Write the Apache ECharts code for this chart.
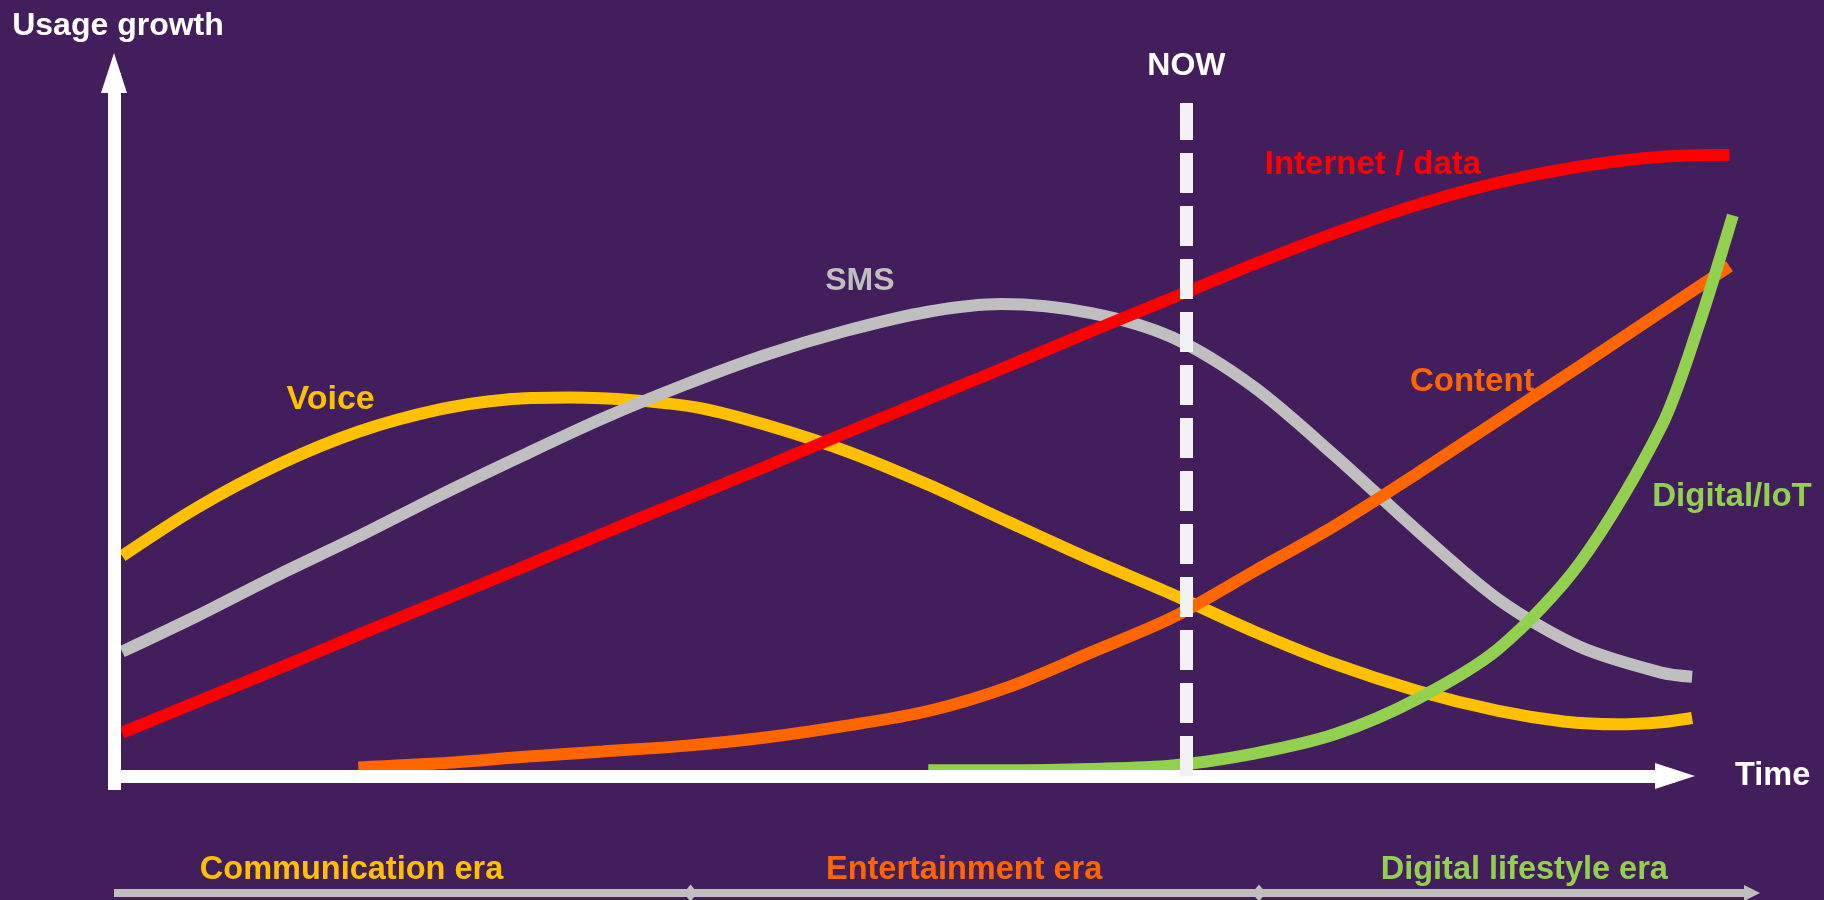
<!DOCTYPE html>
<html>
<head>
<meta charset="utf-8">
<title>Usage growth</title>
<script src="https://cdn.jsdelivr.net/npm/echarts@6/dist/echarts.min.js"></script>
<style>
  html, body { margin: 0; padding: 0; background: #421e5c; }
  #chart { width: 1824px; height: 900px; }
</style>
</head>
<body>
<div id="chart"></div>
<script>
// 数据:x = 时间 (0..100),y = 使用增长 (0..100)
const voiceData = [[0.5, 31.5], [5, 38.3], [10, 44.5], [15, 49.3], [20, 52.5], [24, 53.9], [28, 54.2],
  [32, 53.8], [36, 52.7], [40, 50.3], [45, 46.5], [50, 41.7], [55, 36.3], [60, 31.0], [65, 26.0],
  [70, 20.7], [75, 16.0], [80, 12.2], [85, 9.3], [89, 7.8], [92.3, 7.4], [95, 7.7], [96.9, 8.3]];
const smsData = [[0.5, 17.8], [5, 22.8], [10, 28.7], [15, 34.3], [20, 40.2], [25, 45.8], [30, 51.2],
  [35, 56.0], [40, 60.3], [45, 63.8], [50, 66.5], [54.5, 67.6], [60, 66.3], [65, 62.8], [70, 55.7],
  [75, 45.8], [80, 35.2], [85, 25.3], [90, 18.5], [95, 14.8], [96.9, 14.2]];
const internetData = [[0.5, 6.2], [5, 10.5], [10, 15.3], [15, 20.2], [20, 25.0], [25, 29.8], [30, 34.7],
  [35, 39.5], [40, 44.3], [45, 49.2], [50, 54.0], [55, 58.8], [60, 63.7], [65, 68.5], [70, 73.3],
  [75, 77.8], [80, 81.8], [85, 85.0], [90, 87.3], [95, 88.7], [99.2, 89.0]];
const contentData = [[15, 1.2], [20, 1.8], [25, 2.7], [30, 3.5], [35, 4.3], [40, 5.5], [45, 7.2],
  [50, 9.3], [55, 12.8], [60, 17.7], [65, 22.7], [70, 29.3], [75, 35.9], [80, 43.3], [85, 51.0],
  [90, 58.7], [95, 66.5], [99.2, 73.0]];
const digitalData = [[50, 0.8], [55, 0.8], [60, 1.0], [65, 1.5], [70, 3.2], [75, 6.0], [80, 11.0],
  [85, 18.2], [90, 30.5], [95, 50.0], [97.3, 64.5], [99.4, 80.3]];

const nowX = 65.85;
const eraNames = ["Communication era", "Entertainment era", "Digital lifestyle era"];
const eraColors = ["#ffc000", "#ff6600", "#92d050"];
const eraBreaks = [35.2, 69.9];

const FONT = "'Liberation Sans', Arial, sans-serif";
const txt = (color, size) => ({ color, fontSize: size, fontWeight: "bold", fontFamily: FONT });

// 曲线旁的文字,挂在数据坐标上
function tag(name, coord, color, size = 33) {
  return {
    symbol: "circle",
    symbolSize: 1,
    silent: true,
    itemStyle: { color: "transparent" },
    label: { show: true, position: "inside", formatter: name, ...txt(color, size) },
    data: [{ coord }],
  };
}

function curve(name, data, color, label) {
  return {
    name,
    type: "line",
    xAxisIndex: 1,
    yAxisIndex: 1,
    data,
    smooth: 0.3,
    showSymbol: false,
    silent: true,
    lineStyle: { color, width: 12, cap: "butt" },
    markPoint: label,
  };
}

const hiddenAxis = (gridIndex, min, max) => ({ gridIndex, type: "value", min, max, show: false });
const arrowAxis = (extra) => ({
  gridIndex: 0,
  type: "value",
  z: 4,
  axisLine: {
    show: true,
    onZero: true,
    symbol: ["none", "triangle"],
    symbolSize: [26, 40],
    lineStyle: { color: "#ffffff", width: 13, cap: "butt" },
  },
  axisTick: { show: false },
  axisLabel: { show: false },
  splitLine: { show: false },
  ...extra,
});

const chart = echarts.init(document.getElementById("chart"), null, { renderer: "canvas" });

chart.setOption({
  animation: false,
  backgroundColor: "#421e5c",
  grid: [
    { left: 114, right: 149, top: 73, bottom: 110 },     // 坐标轴箭头
    { left: 114, right: 81.4, top: 77.9, bottom: 124.1 }, // 曲线
    { left: 114, right: 72, bottom: 7, height: 1 },       // 时代条
  ],
  xAxis: [
    arrowAxis({
      min: 0, max: 100,
      name: "Time", nameLocation: "end", nameGap: 60,
      nameTextStyle: { ...txt("#ffffff", 32.5), padding: [4, 0, 0, 0] },
    }),
    hiddenAxis(1, 0, 100),
    {
      gridIndex: 2,
      type: "value",
      min: 0,
      max: 100,
      axisLine: {
        show: true,
        symbol: ["none", "triangle"],
        symbolSize: [16, 16],
        lineStyle: { color: "#bfbfbf", width: 8, cap: "butt" },
      },
      axisTick: { show: false },
      axisLabel: { show: false },
      splitLine: { show: false },
    },
  ],
  yAxis: [
    arrowAxis({
      min: -2, max: 100,
      name: "Usage growth", nameLocation: "end", nameGap: 31,
      nameTextStyle: { ...txt("#ffffff", 32), padding: [0, 0, 0, 8] },
    }),
    hiddenAxis(1, 0, 100),
    hiddenAxis(2, 0, 1),
  ],
  series: [
    curve("Voice", voiceData, "#ffc000", tag("Voice", [13.3, 53.9], "#ffc000", 34)),
    curve("SMS", smsData, "#bfbfbf", tag("SMS", [45.8, 70.9], "#bfbfbf", 32)),
    curve("Internet / data", internetData, "#ff0000", tag("Internet / data", [77.3, 87.5], "#ff0000")),
    curve("Content", contentData, "#ff6600", tag("Content", [83.4, 56.4], "#ff6600")),
    curve("Digital/IoT", digitalData, "#92d050", tag("Digital/IoT", [99.35, 40.0], "#92d050")),
    {
      name: "NOW",
      type: "line",
      xAxisIndex: 1,
      yAxisIndex: 1,
      data: [],
      markLine: {
        silent: true,
        symbol: ["none", "none"],
        lineStyle: { color: "#f2f2f2", width: 13, type: [40, 13], cap: "butt" },
        label: { show: true, position: "end", formatter: "NOW", distance: 21, ...txt("#ffffff", 32) },
        data: [[{ coord: [nowX, 0] }, { coord: [nowX, 96.4] }]],
      },
    },
    {
      name: "eraBreaks",
      type: "scatter",
      xAxisIndex: 2,
      yAxisIndex: 2,
      silent: true,
      symbol: "diamond",
      symbolSize: [14, 17],
      itemStyle: { color: "#bfbfbf", opacity: 1 },
      data: eraBreaks.map((x) => [x, 0]),
    },
    {
      name: "eras",
      type: "scatter",
      xAxisIndex: 2,
      yAxisIndex: 2,
      silent: true,
      symbolSize: 1,
      itemStyle: { color: "transparent", opacity: 1 },
      label: { show: true, position: "top", distance: 6, formatter: "{b}" },
      data: eraNames.map((name, i) => ({
        name,
        value: [[14.5, 51.9, 86.1][i], 0],
        label: txt(eraColors[i], 32.5),
      })),
    },
  ],
});
</script>
</body>
</html>
